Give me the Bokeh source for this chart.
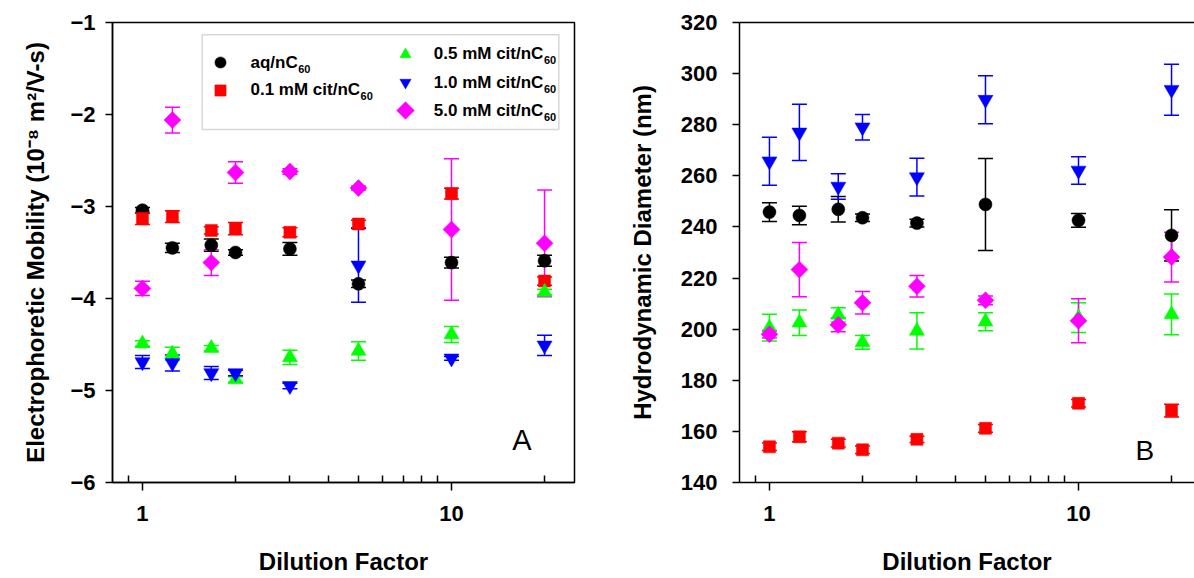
import math
import numpy as np
from bokeh.plotting import figure
from bokeh.models import (ColumnDataSource, Whisker, TeeHead, Legend, LegendItem,
                          BoxAnnotation, LinearAxis, FixedTicker, BasicTickFormatter,
                          Label, Range1d)
from bokeh.layouts import row
from bokeh.embed import file_html
from bokeh.resources import INLINE

# ---------------- data ----------------
dilution = [1, 1.25, 1.67, 2, 3, 5, 10, 20]
series_main = ["aq/nC", "0.1 mM cit/nC", "0.5 mM cit/nC", "1.0 mM cit/nC", "5.0 mM cit/nC"]
series_sub = ["60", "60", "60", "60", "60"]

# Electrophoretic mobility (10^-8 m2/V-s)
epm_aq = [-3.04, -3.45, -3.42, -3.50, -3.46, -3.84, -3.61, -3.59]
epm_aq_err = [0.03, 0.05, 0.067, 0.03, 0.07, 0.04, 0.058, 0.06]
epm_c01 = [-3.13, -3.11, -3.26, -3.24, -3.28, -3.19, -2.86, -3.81]
epm_c01_err = [0.067, 0.065, 0.04, 0.067, 0.05, 0.04, 0.058, 0.045]
epm_c05 = [-4.49, -4.60, -4.54, -4.88, -4.64, -4.57, -4.39, -3.93]
epm_c05_err = [0.03, 0.07, 0.03, 0.03, 0.077, 0.10, 0.087, 0.03]
epm_c10 = [-4.69, -4.70, -4.81, -4.81, -4.95, -3.64, -4.65, -4.51]
epm_c10_err = [0.07, 0.087, 0.07, 0.03, 0.03, 0.40, 0.02, 0.11]
epm_c50 = [-3.89, -2.06, -3.61, -2.63, -2.62, -2.80, -3.25, -3.40]
epm_c50_err = [0.077, 0.14, 0.14, 0.116, 0.03, 0.02, 0.77, 0.58]

# Hydrodynamic diameter (nm)
hdd_aq = [245.8, 244.5, 246.9, 243.6, 241.5, 248.8, 242.6, 236.7]
hdd_aq_err = [3.7, 3.6, 5.0, 1.5, 1.5, 18.0, 2.7, 10.0]
hdd_c01 = [154.0, 157.9, 155.4, 152.8, 156.9, 161.2, 171.0, 168.1]
hdd_c01_err = [1.5, 2.0, 1.5, 1.5, 1.2, 1.5, 1.5, 2.5]
hdd_c05 = [200.6, 202.5, 205.6, 194.8, 199.3, 202.9, 204.5, 205.8]
hdd_c05_err = [5.2, 5.0, 2.8, 2.7, 7.1, 3.5, 5.8, 8.0]
hdd_c10 = [265.7, 277.0, 255.8, 279.0, 259.5, 289.8, 262.1, 293.7]
hdd_c10_err = [9.4, 11.0, 5.0, 5.0, 7.4, 9.4, 5.4, 10.0]
hdd_c50 = [198.0, 223.3, 201.7, 210.3, 216.8, 211.3, 203.3, 228.2]
hdd_c50_err = [1.5, 10.6, 2.7, 4.4, 4.2, 1.7, 8.6, 9.7]

x_major_ticks = [1, 10]
x_minor_ticks = [0.9, 2, 3, 4, 5, 6, 7, 8, 9, 20]
epm_ticks = [-6, -5, -4, -3, -2, -1]
hdd_ticks = [140, 160, 180, 200, 220, 240, 260, 280, 300, 320]

# ---------------- styling / layout ----------------
FONT = "Liberation Sans"
colors = ["#000000", "#FF0000", "#00FF00", "#0000FF", "#FF00FF"]
markers = ["circle", "square", "triangle", "inverted_triangle", "square"]
angles = [0, 0, 0, 0, np.pi / 4]
sizes = [13, 12, 15, 15, 12]

TOP = 22
BOTTOM_BORDER = 96
FRAME_H = 578 - TOP - BOTTOM_BORDER

# Arial/Liberation Sans Bold advance widths (per 1000 em)
BOLD_W = {" ": 278, ".": 278, "/": 278, "C": 722, "M": 833, "a": 556, "c": 556,
          "i": 278, "m": 889, "n": 611, "q": 611, "t": 333}


def text_width(s, size):
    return sum(BOLD_W.get(ch, 556) for ch in s) * size / 1000.0


def px_to_data(frame, px, py):
    left, w, x0, x1, y0, y1 = frame
    lx = math.log10(x0) + (px - left) / w * (math.log10(x1) - math.log10(x0))
    y = y1 - (py - TOP) / FRAME_H * (y1 - y0)
    return 10 ** lx, y


def make_panel(width, left_border, right_border, x_end, y_start, y_end, y_ticks,
               y_title, label_standoff, title_standoff, outline):
    p = figure(width=width, height=578, x_axis_type="log",
               x_range=Range1d(0.8, x_end), y_range=Range1d(y_start, y_end),
               output_backend="svg", toolbar_location=None,
               min_border_left=left_border, min_border_right=right_border,
               min_border_top=TOP, min_border_bottom=BOTTOM_BORDER)
    p.grid.visible = False
    p.outline_line_color = "black" if outline else None
    p.outline_line_width = 1.5

    xa = p.xaxis[0]
    xa.ticker = FixedTicker(ticks=x_major_ticks, minor_ticks=x_minor_ticks)
    xa.formatter = BasicTickFormatter()
    xa.axis_line_width = 1.5
    xa.major_tick_line_width = 1.5
    xa.minor_tick_line_width = 1.5
    xa.major_tick_in = 0
    xa.major_tick_out = 8
    xa.minor_tick_in = 7
    xa.minor_tick_out = 0
    xa.major_label_standoff = 15
    xa.major_label_text_font = FONT
    xa.major_label_text_font_style = "bold"
    xa.major_label_text_font_size = "22px"
    xa.major_label_text_color = "black"
    xa.axis_label = "Dilution Factor"
    xa.axis_label_standoff = 24
    xa.axis_label_text_font = FONT
    xa.axis_label_text_font_style = "bold"
    xa.axis_label_text_font_size = "24px"
    xa.axis_label_text_color = "black"

    ya = p.yaxis[0]
    ya.ticker = FixedTicker(ticks=y_ticks)
    ya.formatter = BasicTickFormatter()
    ya.axis_line_width = 1.5
    ya.major_tick_line_width = 1.5
    ya.major_tick_in = 0
    ya.major_tick_out = 7
    ya.minor_tick_line_color = None
    ya.major_label_standoff = label_standoff
    ya.major_label_text_font = FONT
    ya.major_label_text_font_style = "bold"
    ya.major_label_text_font_size = "22px"
    ya.major_label_text_color = "black"
    ya.axis_label = y_title
    ya.axis_label_standoff = title_standoff
    ya.axis_label_text_font = FONT
    ya.axis_label_text_font_style = "bold"
    ya.axis_label_text_font_size = "24px"
    ya.axis_label_text_color = "black"
    return p


def add_series(p, ys, errs):
    renderers = []
    for y, e, c, m, a, s in zip(ys, errs, colors, markers, angles, sizes):
        y = np.array(y, dtype=float)
        e = np.array(e, dtype=float)
        src = ColumnDataSource(dict(x=dilution, y=y, upper=y + e, lower=y - e))
        w = Whisker(base="x", upper="upper", lower="lower", source=src,
                    line_color=c, line_width=1.5,
                    upper_head=TeeHead(size=15, line_color=c, line_width=1.5),
                    lower_head=TeeHead(size=15, line_color=c, line_width=1.5))
        p.add_layout(w)
        r = p.scatter("x", "y", source=src, marker=m, size=s, angle=a,
                      fill_color=c, line_color=c, line_width=0.5)
        renderers.append(r)
    return renderers


# ---------------- left panel ----------------
P1_LEFT, P1_W = 112, 462
p1 = make_panel(600, P1_LEFT, 600 - P1_LEFT - P1_W, 25, -6, -1, epm_ticks,
                "Electrophoretic Mobility (10⁻⁸ m²/V-s)", 10, 18, True)
frame1 = (P1_LEFT, P1_W, 0.8, 25, -6, -1)
r1 = add_series(p1, [epm_aq, epm_c01, epm_c05, epm_c10, epm_c50],
                [epm_aq_err, epm_c01_err, epm_c05_err, epm_c10_err, epm_c50_err])

# legend frame (drawn beneath the legend keys)
bl, bt = px_to_data(frame1, 201.7, 34.3)
br, bb = px_to_data(frame1, 558.3, 129)
p1.add_layout(BoxAnnotation(left=bl, right=br, top=bt, bottom=bb,
                            fill_color="white", fill_alpha=1.0, level="underlay",
                            line_color="#7a7a7a", line_width=1.5))

frame_bottom = TOP + FRAME_H
leg_common = dict(padding=0, margin=0, spacing=0, border_line_color=None,
                  background_fill_alpha=0, glyph_width=28, glyph_height=28,
                  label_height=28, label_standoff=0, label_width=0,
                  label_text_font_size="1px")
leg1 = Legend(items=[LegendItem(label=" ", renderers=[r1[i]]) for i in (0, 1)],
              location=(206 - P1_LEFT, frame_bottom - 103.7), **leg_common)
leg2 = Legend(items=[LegendItem(label=" ", renderers=[r1[i]]) for i in (2, 3)],
              location=(391 - P1_LEFT, frame_bottom - 95.7), **leg_common)
p1.add_layout(leg1)
p1.add_layout(leg2)
# legend key for the diamond series (Bokeh legends do not rotate markers)
kx, ky = px_to_data(frame1, 405, 110)
p1.scatter(x=[kx], y=[ky], marker=markers[4], angle=angles[4], size=12.5,
           fill_color=colors[4], line_color=colors[4], line_width=0.5)

# legend texts with subscripts
legend_rows = [(250.0, 61.7), (250.0, 89.3), (433.3, 53.3), (433.3, 81.7), (433.3, 110.0)]
for (tx, ty), main, sub in zip(legend_rows, series_main, series_sub):
    lx, ly = px_to_data(frame1, tx, ty)
    p1.add_layout(Label(x=lx, y=ly, text=main, text_font=FONT, text_font_style="bold",
                        text_font_size="17px", text_color="black",
                        text_align="left", text_baseline="middle"))
    sx, sy = px_to_data(frame1, tx + text_width(main, 17) + 0.5, ty + 6.5)
    p1.add_layout(Label(x=sx, y=sy, text=sub, text_font=FONT, text_font_style="bold",
                        text_font_size="11px", text_color="black",
                        text_align="left", text_baseline="middle"))

ax, ay = px_to_data(frame1, 511.7, 439)
p1.add_layout(Label(x=ax, y=ay, text="A", text_font=FONT, text_color="black",
                    text_font_size="29px", text_align="left", text_baseline="middle"))

# ---------------- right panel ----------------
P2_LEFT, P2_W = 139, 455
p2_xend = 10 ** (math.log10(0.8) + P2_W / P1_W * math.log10(25 / 0.8))
p2 = make_panel(594, P2_LEFT, 594 - P2_LEFT - P2_W, p2_xend, 140, 320, hdd_ticks,
                "Hydrodynamic Diameter (nm)", 15, 22, False)
frame2 = (P2_LEFT, P2_W, 0.8, p2_xend, 140, 320)
top_axis = LinearAxis(ticker=FixedTicker(ticks=[]), major_label_text_font_size="0px",
                      axis_line_width=1.5, major_tick_out=0, major_tick_in=0,
                      minor_tick_line_color=None, major_tick_line_color=None)
p2.add_layout(top_axis, "above")
add_series(p2, [hdd_aq, hdd_c01, hdd_c05, hdd_c10, hdd_c50],
           [hdd_aq_err, hdd_c01_err, hdd_c05_err, hdd_c10_err, hdd_c50_err])
bx, by = px_to_data(frame2, 1135 - 600, 450)
p2.add_layout(Label(x=bx, y=by, text="B", text_font=FONT, text_color="black",
                    text_font_size="28px", text_align="left", text_baseline="middle"))

layout = row(p1, p2)
open("out.html", "w").write(file_html(layout, INLINE))
